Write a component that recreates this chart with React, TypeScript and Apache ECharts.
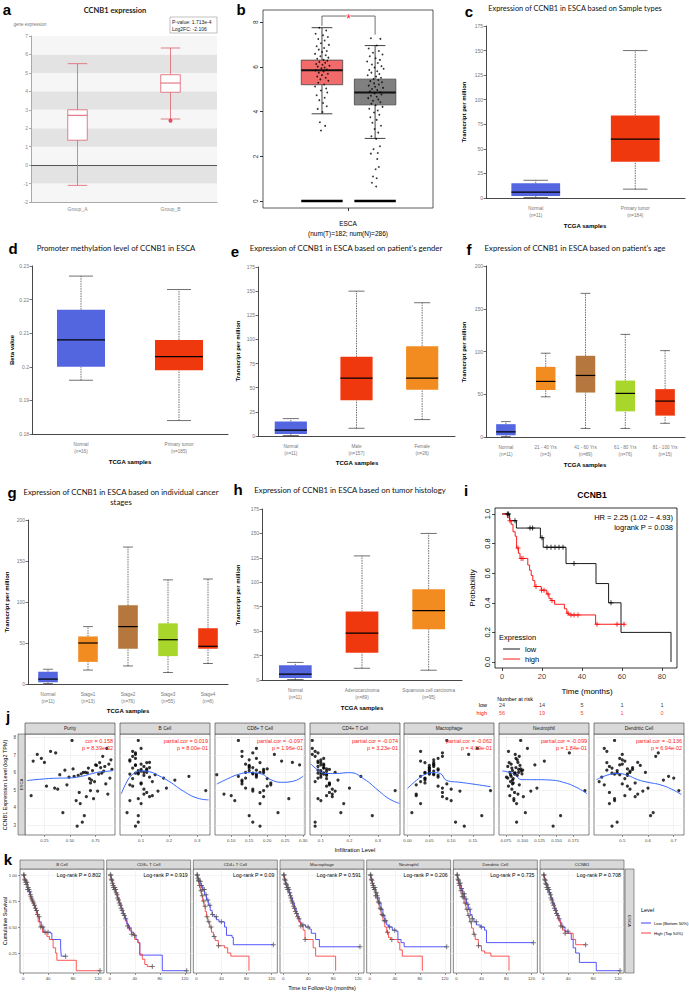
import React, { useEffect, useRef } from 'react';
import * as echarts from 'echarts';

const SANS = '"Liberation Sans", Arial, Helvetica, sans-serif';
const LATO = 'Lato, "Open Sans", "Noto Sans", sans-serif';
const PLUS = 'path://M2,0h1v2h2v1h-2v2h-1v-2h-2v-1h2z';

// ================= DATA =================
// a
const aCats = ['Group_A', 'Group_B'];
const aBoxes = [[-1.1, 1.35, 2.7, 3.0, 5.5], [2.5, 3.95, 4.45, 4.9, 6.35]];
const aOutliers = [[1, 2.4]];
const aStats = ['P-value: 1.713e-4', 'Log2FC: -2.106'];

// b
const bGroups = [1, 2];
const bBoxes = [[3.9, 5.2, 5.85, 6.3, 7.75], [2.8, 4.3, 4.85, 5.45, 6.95]];
const bTumorPts = [[-0.05,7.75],[0.08,7.62],[-0.12,7.48],[0.02,7.41],[0.11,7.33],[-0.07,7.24],[0.05,7.18],[-0.02,7.05],[0.13,6.98],[-0.1,6.92],[0.04,6.84],[-0.06,6.77],[0.09,6.71],[0,6.66],[-0.13,6.58],[0.07,6.52],[-0.03,6.47],[0.12,6.41],[-0.09,6.36],[0.03,6.31],[0.1,6.27],[-0.05,6.22],[0.06,6.18],[-0.11,6.13],[0.01,6.09],[0.14,6.05],[-0.08,6.01],[0.05,5.97],[-0.01,5.93],[0.09,5.88],[-0.12,5.84],[0.03,5.79],[-0.06,5.74],[0.11,5.69],[0,5.63],[-0.09,5.57],[0.07,5.51],[-0.03,5.44],[0.12,5.38],[-0.07,5.29],[0.04,5.21],[-0.13,5.12],[0.08,5.03],[-0.02,4.94],[0.1,4.85],[-0.1,4.73],[0.05,4.62],[-0.05,4.51],[0.02,4.38],[0.09,4.24],[-0.08,4.12],[0.01,3.98],[-0.04,3.52],[0.06,3.36],[-0.02,3.15]];
const bNormalPts = [[-0.08,7.28],[0.1,7.25],[0.03,6.95],[-0.12,6.82],[0.07,6.71],[-0.04,6.63],[0.14,6.55],[-0.1,6.47],[0.01,6.38],[0.09,6.31],[-0.15,6.24],[0.05,6.17],[-0.06,6.1],[0.12,6.03],[-0.01,5.97],[0.16,5.91],[-0.11,5.86],[0.04,5.8],[-0.07,5.74],[0.08,5.68],[-0.14,5.62],[0.02,5.57],[0.11,5.51],[-0.03,5.46],[0.06,5.41],[-0.09,5.36],[0.13,5.31],[-0.02,5.26],[0.07,5.21],[-0.12,5.16],[0,5.11],[0.15,5.06],[-0.06,5.01],[0.04,4.96],[-0.1,4.91],[0.09,4.86],[-0.01,4.81],[0.12,4.76],[-0.08,4.71],[0.03,4.66],[-0.13,4.6],[0.06,4.54],[-0.04,4.48],[0.1,4.42],[-0.07,4.35],[0.01,4.28],[0.14,4.21],[-0.11,4.13],[0.05,4.05],[-0.02,3.96],[0.08,3.86],[-0.09,3.75],[0.03,3.63],[-0.05,3.5],[0.11,3.37],[-0.01,3.22],[0.06,3.06],[-0.07,2.9],[0.02,2.78],[0.09,2.45],[-0.03,2.32],[0.05,2.15],[-0.08,2.12],[0.04,1.88],[0.07,1.52],[0.01,1.42],[-0.04,1.1],[0.03,1.02],[-0.06,0.82],[0.02,0.65]];
const bBracket = [1, 2, 7.83, 7.44, 8.27];

// c - h  (each box: [lowWhisker, Q1, median, Q3, highWhisker])
const cCats = ['Normal\n(n=11)', 'Primary tumor\n(n=184)'];
const cBoxes = [[0.5, 2, 6, 15, 18], [9, 37, 60, 84, 150]];
const dCats = ['Normal\n(n=16)', 'Primary tumor\n(n=185)'];
const dBoxes = [[0.196, 0.2, 0.208, 0.217, 0.227], [0.184, 0.199, 0.203, 0.208, 0.223]];
const eCats = ['Normal\n(n=11)', 'Male\n(n=157)', 'Female\n(n=26)'];
const eBoxes = [[0.5, 2, 6, 15, 18], [8, 37, 60, 82, 150], [17, 48, 60, 93, 138]];
const fCats = ['Normal\n(n=11)', '21 - 40 Yrs\n(n=3)', '41 - 60 Yrs\n(n=89)', '61 - 80 Yrs\n(n=76)', '81 - 100 Yrs\n(n=15)'];
const fBoxes = [[0.5, 2, 6, 15, 18], [47, 55, 65, 82, 98], [10, 52, 72, 95, 168], [10, 30, 51, 66, 120], [16, 25, 42, 56, 101]];
const gCats = ['Normal\n(n=11)', 'Stage1\n(n=13)', 'Stage2\n(n=76)', 'Stage3\n(n=55)', 'Stage4\n(n=8)'];
const gBoxes = [[0.5, 2, 6, 15, 18], [17, 27, 50, 58, 70], [22, 43, 70, 96, 167], [14, 34, 54, 74, 127], [25, 43, 46, 68, 128]];
const hCats = ['Normal\n(n=11)', 'Adenocarcinoma\n(n=89)', 'Squamous cell carcinoma\n(n=95)'];
const hBoxes = [[0.5, 2, 6, 15, 18], [12, 28, 48, 70, 127], [10, 52, 71, 93, 150]];

// i
const iLowCurve = [[0,1],[3.8,0.955],[7.2,0.905],[19.2,0.84],[20.6,0.775],[32,0.665],[47,0.53],[53.3,0.4],[59.5,0.2],[84.5,0]];
const iHighCurve = [[0,1],[2.7,0.975],[3.8,0.955],[4.6,0.93],[5.5,0.88],[6.6,0.85],[7.3,0.77],[8.2,0.735],[9,0.7],[12.9,0.655],[13.8,0.62],[14.6,0.585],[15.4,0.55],[16.4,0.51],[19.6,0.485],[22.4,0.46],[23.5,0.43],[24.5,0.415],[26.3,0.39],[31.2,0.36],[32.4,0.33],[33.4,0.318],[46.8,0.255],[61.5,0.255]];
const iLowCensorT = [2.7,3.3,6.5,14,15.3,20,22.5,24.5,26.5,28.5,30.5,36,54.5];
const iHighCensorT = [4,8,9.6,10.5,17,19.8,21,23,25,33,34.5,36,38,47.5,57.5,61];
const riskTimes = [0, 20, 40, 60, 80];
const riskLow = [24, 14, 5, 1, 1];
const riskHigh = [56, 19, 5, 1, 0];
const iXTicks = [0, 20, 40, 60, 80];
const iYTicks = [0, 0.2, 0.4, 0.6, 0.8, 1];

// j
const jNames = ['Purity', 'B Cell', 'CD8+ T Cell', 'CD4+ T Cell', 'Macrophage', 'Neutrophil', 'Dendritic Cell'];
const jCor = [['cor = 0.158', 'p = 8.39e-02'], ['partial.cor = 0.019', 'p = 8.00e-01'], ['partial.cor = -0.097', 'p = 1.96e-01'], ['partial.cor = -0.074', 'p = 3.23e-01'], ['partial.cor = -0.062', 'p = 4.09e-01'], ['partial.cor = -0.099', 'p = 1.84e-01'], ['partial.cor = -0.136', 'p = 6.94e-02']];
const jExpr = [6.12,5.84,7.21,4.63,5.97,6.48,5.31,6.02,7.83,4.95,5.66,6.35,3.72,6.81,5.49,6.18,4.41,5.93,6.57,5.12,7.04,6.26,4.78,5.74,6.09,3.18,5.58,6.66,4.87,6.41,5.88,7.38,5.23,6.01,4.52,6.29,5.79,2.95,6.73,5.41,6.14,4.69,5.99,6.93,5.06,6.44,4.24,5.69,6.21,3.55,5.92,6.58,5.36,7.12,4.98];
const jPurityX = [0.72,0.58,0.31,0.66,0.81,0.88,0.47,0.63,0.52,0.77,0.69,0.84,0.43,0.22,0.74,0.91,0.56,0.61,0.79,0.35,0.18,0.68,0.87,0.49,0.83,0.62,0.71,0.14,0.59,0.76,0.4,0.86,0.27,0.65,0.73,0.8,0.54,0.57,0.9,0.7,0.45,0.12,0.67,0.82,0.38,0.75,0.6,0.89,0.53,0.64,0.78,0.25,0.85,0.36,0.7];
const jBCellX = [0.09,0.11,0.07,0.13,0.08,0.1,0.06,0.12,0.09,0.16,0.07,0.11,0.05,0.08,0.14,0.1,0.06,0.09,0.12,0.19,0.08,0.07,0.11,0.13,0.1,0.09,0.22,0.06,0.12,0.08,0.15,0.1,0.07,0.11,0.09,0.13,0.27,0.08,0.06,0.1,0.12,0.14,0.09,0.07,0.11,0.08,0.1,0.18,0.12,0.09,0.06,0.13,0.1,0.08,0.33];
const jCD8X = [0.15,0.17,0.13,0.19,0.16,0.14,0.21,0.18,0.12,0.16,0.2,0.15,0.23,0.17,0.13,0.19,0.11,0.16,0.18,0.14,0.22,0.15,0.08,0.17,0.19,0.16,0.13,0.24,0.18,0.15,0.06,0.17,0.2,0.14,0.26,0.16,0.12,0.18,0.15,0.21,0.17,0.1,0.19,0.13,0.16,0.29,0.18,0.14,0.2,0.15,0.17,0.27,0.13,0.16,0.19];
const jCD4X = [0.1,0.12,0.08,0.14,0.09,0.11,0.13,0.1,0.07,0.15,0.12,0.09,0.17,0.11,0.08,0.13,0.1,0.12,0.09,0.2,0.07,0.11,0.14,0.1,0.12,0.08,0.16,0.09,0.13,0.11,0.1,0.07,0.12,0.15,0.09,0.11,0.24,0.08,0.1,0.13,0.09,0.12,0.11,0.08,0.14,0.1,0.18,0.09,0.12,0.28,0.11,0.1,0.13,0.09,0.36];
const jMacX = [0.05,0.07,0.03,0.08,0.04,0.06,0.02,0.05,0.09,0.12,0.04,0.06,0.01,0.07,0.03,0.05,0.1,0.06,0.04,0.08,0.14,0.05,0.02,0.07,0.06,0.11,0.04,0.03,0.08,0.05,0.06,0.16,0.07,0.04,0.09,0.05,0.03,0.13,0.06,0.04,0.07,0.02,0.05,0.08,0.1,0.06,0.03,0.04,0.07,0.17,0.05,0.06,0.09,0.08,0.19];
const jNeuX = [0.085,0.092,0.079,0.101,0.088,0.083,0.095,0.081,0.097,0.112,0.086,0.078,0.104,0.09,0.082,0.094,0.087,0.099,0.08,0.121,0.089,0.084,0.093,0.076,0.098,0.091,0.085,0.132,0.088,0.096,0.082,0.107,0.079,0.094,0.087,0.09,0.083,0.145,0.092,0.086,0.1,0.081,0.089,0.095,0.084,0.118,0.091,0.078,0.097,0.156,0.088,0.093,0.085,0.169,0.192];
const jDCX = [0.48,0.52,0.44,0.55,0.46,0.5,0.43,0.53,0.47,0.58,0.51,0.45,0.62,0.49,0.41,0.54,0.47,0.52,0.44,0.6,0.5,0.46,0.56,0.42,0.53,0.48,0.66,0.51,0.45,0.57,0.49,0.43,0.52,0.59,0.47,0.54,0.68,0.46,0.5,0.55,0.44,0.51,0.48,0.63,0.53,0.49,0.45,0.7,0.52,0.61,0.47,0.56,0.5,0.64,0.72];
const jXs = [jPurityX, jBCellX, jCD8X, jCD4X, jMacX, jNeuX, jDCX];
// loess fit: [x, fit, lower, upper]
const jFits = [
  [[0.08,5.55,4.95,6.15],[0.2,5.62,5.25,6.0],[0.35,5.68,5.45,5.92],[0.5,5.7,5.55,5.85],[0.62,5.8,5.67,5.93],[0.72,5.95,5.82,6.08],[0.8,6.05,5.9,6.2],[0.87,6.08,5.88,6.3],[0.92,6.12,5.8,6.45]],
  [[0.03,4.8,4.0,5.6],[0.05,5.5,5.0,6.0],[0.07,5.9,5.65,6.15],[0.1,6.1,5.95,6.25],[0.13,6.05,5.85,6.25],[0.16,5.85,5.5,6.2],[0.2,5.5,4.9,6.1],[0.25,4.95,4.0,5.9],[0.3,4.55,3.2,5.9],[0.34,4.45,2.8,6.1]],
  [[0.06,5.35,4.7,6.0],[0.09,5.65,5.25,6.05],[0.12,5.9,5.7,6.1],[0.15,6.0,5.85,6.15],[0.18,5.95,5.8,6.1],[0.21,5.6,5.4,5.8],[0.24,5.45,5.05,5.85],[0.27,5.5,4.85,6.15],[0.3,5.8,4.8,6.8]],
  [[0.065,6.5,6.0,7.0],[0.09,6.15,5.95,6.35],[0.12,5.95,5.8,6.1],[0.15,5.95,5.75,6.15],[0.2,6.0,5.65,6.35],[0.25,5.65,5.0,6.3],[0.3,5.0,4.0,6.0],[0.34,4.5,3.0,6.0],[0.375,4.25,2.5,6.0]],
  [[0.0,5.1,4.5,5.7],[0.02,5.55,5.25,5.85],[0.04,5.9,5.7,6.1],[0.06,6.0,5.85,6.15],[0.075,5.95,5.75,6.15],[0.09,5.55,5.3,5.8],[0.12,5.45,5.1,5.8],[0.15,5.35,4.85,5.85],[0.19,5.2,4.4,6.0]],
  [[0.07,6.1,5.8,6.4],[0.085,5.95,5.8,6.1],[0.1,5.6,5.4,5.8],[0.12,5.6,5.3,5.9],[0.14,5.58,5.2,5.95],[0.16,5.45,4.9,6.0],[0.18,5.15,4.3,6.0],[0.195,4.8,3.7,5.9]],
  [[0.4,5.6,5.2,6.0],[0.44,5.85,5.65,6.05],[0.48,5.95,5.8,6.1],[0.52,5.85,5.7,6.0],[0.56,5.6,5.4,5.8],[0.6,5.45,5.2,5.7],[0.65,5.3,4.95,5.65],[0.7,5.0,4.5,5.5],[0.73,4.75,4.1,5.4]]
];
const jRanges = [[0.06, 0.94], [0.025, 0.345], [0.055, 0.305], [0.062, 0.377], [-0.008, 0.198], [0.065, 0.198], [0.39, 0.74]];
const jTicks = [[0.25, 0.5, 0.75], [0.1, 0.2, 0.3], [0.1, 0.15, 0.2, 0.25, 0.3], [0.1, 0.2, 0.3], [0, 0.05, 0.1, 0.15], [0.075, 0.1, 0.125, 0.15, 0.175], [0.5, 0.6, 0.7]];
const jTickDec = [2, 1, 2, 1, 2, 3, 1];
const jYTicks = [3, 4, 5, 6, 7, 8];

// k
const kNames = ['B Cell', 'CD8+ T Cell', 'CD4+ T Cell', 'Macrophage', 'Neutrophil', 'Dendritic Cell', 'CCNB1'];
const kP = ['0.802', '0.919', '0.09', '0.591', '0.206', '0.735', '0.708'];
const kLow = [
  [[0,1],[2,0.96],[4,0.93],[7,0.88],[9,0.84],[12,0.79],[14,0.75],[17,0.71],[20,0.66],[23,0.6],[26,0.55],[29,0.5],[33,0.45],[44,0.44],[46,0.38],[57,0.38],[60,0.3],[61,0.22],[68,0.22]],
  [[0,1],[2,0.96],[4,0.92],[6,0.88],[9,0.83],[12,0.78],[15,0.73],[18,0.68],[21,0.63],[24,0.58],[27,0.53],[30,0.49],[34,0.45],[38,0.42],[42,0.38],[45,0.35],[48,0.23],[84,0.08],[123,0.08]],
  [[0,1],[2,0.97],[4,0.94],[7,0.9],[10,0.86],[13,0.81],[16,0.76],[19,0.71],[22,0.66],[25,0.62],[28,0.6],[32,0.57],[36,0.55],[45,0.5],[48,0.42],[57,0.4],[59,0.33],[123,0.33]],
  [[0,1],[2,0.96],[4,0.92],[6,0.88],[9,0.83],[12,0.78],[15,0.73],[18,0.68],[21,0.63],[24,0.58],[27,0.54],[30,0.52],[36,0.5],[42,0.48],[45,0.44],[52,0.38],[58,0.31],[123,0.31]],
  [[0,1],[2,0.96],[4,0.92],[6,0.88],[9,0.83],[12,0.78],[15,0.73],[18,0.67],[21,0.61],[24,0.56],[27,0.52],[30,0.5],[36,0.47],[42,0.46],[45,0.38],[50,0.35],[55,0.31],[123,0.31]],
  [[0,1],[2,0.96],[4,0.92],[7,0.87],[10,0.82],[13,0.77],[16,0.72],[19,0.67],[22,0.62],[25,0.58],[28,0.55],[32,0.52],[38,0.5],[45,0.47],[48,0.35],[123,0.35]],
  [[0,1],[2,0.96],[4,0.92],[6,0.88],[9,0.83],[12,0.78],[15,0.73],[18,0.68],[21,0.63],[24,0.58],[27,0.54],[30,0.5],[35,0.46],[40,0.44],[45,0.38],[48,0.3],[52,0.25],[58,0.16],[85,0.08],[123,0.08]]
];
const kHigh = [
  [[0,1],[2,0.95],[5,0.91],[7,0.86],[10,0.81],[12,0.77],[15,0.73],[18,0.68],[21,0.62],[24,0.55],[27,0.5],[31,0.45],[38,0.41],[42,0.38],[48,0.3],[52,0.25],[54,0.18],[85,0.08],[123,0.08]],
  [[0,1],[2,0.95],[5,0.9],[7,0.86],[10,0.81],[13,0.76],[16,0.71],[19,0.66],[22,0.61],[25,0.56],[28,0.51],[31,0.47],[35,0.43],[40,0.38],[45,0.35],[48,0.24],[52,0.19],[56,0.14],[60,0.12],[68,0.12]],
  [[0,1],[2,0.95],[4,0.9],[6,0.85],[8,0.8],[10,0.75],[12,0.7],[14,0.65],[16,0.6],[18,0.55],[21,0.5],[24,0.45],[27,0.41],[30,0.37],[35,0.32],[45,0.3],[50,0.25],[55,0.22],[84,0.08]],
  [[0,1],[2,0.95],[4,0.91],[7,0.86],[10,0.8],[13,0.75],[16,0.7],[19,0.65],[22,0.6],[25,0.55],[28,0.51],[32,0.47],[35,0.38],[45,0.38],[48,0.3],[52,0.22],[84,0.08]],
  [[0,1],[2,0.95],[4,0.9],[6,0.86],[9,0.8],[12,0.74],[15,0.68],[18,0.62],[21,0.56],[24,0.5],[27,0.45],[30,0.4],[33,0.38],[45,0.35],[48,0.28],[52,0.22],[84,0.08]],
  [[0,1],[2,0.95],[4,0.9],[6,0.85],[9,0.79],[12,0.73],[15,0.67],[18,0.61],[21,0.55],[24,0.49],[27,0.43],[30,0.38],[35,0.32],[40,0.27],[45,0.25],[55,0.22],[84,0.08]],
  [[0,1],[2,0.95],[4,0.91],[7,0.86],[10,0.81],[13,0.76],[16,0.71],[19,0.66],[22,0.61],[25,0.56],[28,0.51],[31,0.47],[35,0.44],[45,0.44],[48,0.38],[52,0.33],[68,0.33]]
];
const kCensorT = [0.8,1.6,2.5,3.3,4.2,5.1,6,7.2,8.1,9.3,10.4,11.6,12.5,13.9,15.2,16.8,18.1,19.7,21.4,23.2,25.5,28.3,31.6,35.2,39.8];
const kXTicks = [0, 40, 80, 120];
const kYTicks = [0.25, 0.5, 0.75, 1];

// ================= HELPERS =================
const survAt = (curve: number[][], t: number) => {
  let y = curve[0][1];
  for (const p of curve) if (p[0] <= t) y = p[1];
  return y;
};

function T(x: number, y: number, text: string, o: any = {}) {
  const align = o.align || 'center';
  const va = o.va || 'middle';
  return {
    type: 'text', x, y, rotation: o.rot || 0, silent: true, z: 100,
    style: {
      text, fill: o.fill || '#000', fontSize: o.size || 6, fontFamily: o.family || SANS,
      fontWeight: o.weight || 'normal', align, verticalAlign: va, textAlign: align, textVerticalAlign: va
    }
  };
}
function R(x: number, y: number, w: number, h: number, fill: string, stroke?: string, lw?: number) {
  return { type: 'rect', silent: true, z: 99, shape: { x, y, width: w, height: h }, style: { fill, stroke: stroke || 'none', lineWidth: lw || 0 } };
}
function L(x1: number, y1: number, x2: number, y2: number, stroke: string, lw: number) {
  return { type: 'line', silent: true, z: 100, shape: { x1, y1, x2, y2 }, style: { stroke, lineWidth: lw } };
}

function boxRender(st: any) {
  return (params: any, api: any) => {
    const xv = api.value(0);
    const pLo = api.coord([xv, api.value(1)]);
    const pQ1 = api.coord([xv, api.value(2)]);
    const pMd = api.coord([xv, api.value(3)]);
    const pQ3 = api.coord([xv, api.value(4)]);
    const pHi = api.coord([xv, api.value(5)]);
    const cx = pMd[0];
    const bw = api.size([1, 0])[0] * st.frac;
    const cw = bw * st.cap;
    const fill = st.fills[params.dataIndex % st.fills.length];
    const ws: any = { stroke: st.whisker, lineWidth: st.whiskerW };
    if (st.dash) ws.lineDash = st.dash;
    const cs = { stroke: st.whisker, lineWidth: st.whiskerW };
    const children: any[] = [
      { type: 'line', shape: { x1: cx, y1: pQ3[1], x2: cx, y2: pHi[1] }, style: ws },
      { type: 'line', shape: { x1: cx, y1: pLo[1], x2: cx, y2: pQ1[1] }, style: ws },
      { type: 'line', shape: { x1: cx - cw / 2, y1: pHi[1], x2: cx + cw / 2, y2: pHi[1] }, style: cs },
      { type: 'line', shape: { x1: cx - cw / 2, y1: pLo[1], x2: cx + cw / 2, y2: pLo[1] }, style: cs },
      { type: 'rect', shape: { x: cx - bw / 2, y: pQ3[1], width: bw, height: pQ1[1] - pQ3[1] }, style: { fill, stroke: st.stroke || 'none', lineWidth: 0.8 } },
      { type: 'line', shape: { x1: cx - bw / 2, y1: pMd[1], x2: cx + bw / 2, y2: pMd[1] }, style: { stroke: st.median, lineWidth: st.medianW } }
    ];
    if (st.zero) {
      const p0 = api.coord([xv, 0]);
      children.push({ type: 'line', shape: { x1: cx - bw / 2, y1: p0[1], x2: cx + bw / 2, y2: p0[1] }, style: { stroke: '#000', lineWidth: 2.4 } });
    }
    return { type: 'group', children };
  };
}

const BLUE = '#5366E0', RED = '#F0380E', ORANGE = '#F28C20', BROWN = '#B5773D', GREEN = '#A9D62B';

function buildOption() {
  const grid: any[] = [], xAxis: any[] = [], yAxis: any[] = [], series: any[] = [], graphic: any[] = [];
  const noLine = { show: false, onZero: false };

  // ---------- a ----------
  grid.push({ left: 31, top: 36, width: 186, height: 166 });
  xAxis.push({ type: 'category', gridIndex: 0, data: aCats, axisLine: { onZero: false, lineStyle: { color: '#aaa' } }, axisTick: { show: false }, axisLabel: { fontSize: 5, color: '#888', margin: 4, fontFamily: SANS }, splitLine: { show: false } });
  yAxis.push({ type: 'value', gridIndex: 0, min: -2, max: 7, interval: 1, axisLine: { show: true, onZero: false, lineStyle: { color: '#aaa' } }, axisTick: { show: true, length: 2, lineStyle: { color: '#aaa' } }, axisLabel: { fontSize: 5, color: '#888', margin: 3, fontFamily: SANS }, splitLine: { show: false }, splitArea: { show: true, areaStyle: { color: ['#f6f6f6', '#e3e3e3'] } } });
  series.push({ type: 'custom', xAxisIndex: 0, yAxisIndex: 0, z: 5, encode: { x: 0, y: [1, 2, 3, 4, 5] }, data: aBoxes.map((b, k) => [k, ...b]),
    renderItem: boxRender({ frac: 0.21, cap: 1, fills: ['#fff'], stroke: '#e0606e', whisker: '#e0606e', dash: null, median: '#e0606e', medianW: 1, whiskerW: 0.8 }) });
  series.push({ type: 'scatter', xAxisIndex: 0, yAxisIndex: 0, z: 6, data: aOutliers, symbolSize: 4, itemStyle: { color: '#d8283c' },
    markLine: { silent: true, symbol: 'none', label: { show: false }, lineStyle: { color: '#555', width: 1, type: 'solid' }, data: [{ yAxis: 0 }] } });
  graphic.push(T(115, 10, 'CCNB1 expression', { size: 7.5, family: LATO, weight: 'bold', fill: '#222' }));
  graphic.push(T(30, 24, 'gene expression', { size: 4.5, fill: '#777' }));
  graphic.push(R(170, 17, 47, 16, '#fff', '#999', 0.6));
  graphic.push(T(172, 21.5, aStats[0], { size: 5, align: 'left', fill: '#222' }));
  graphic.push(T(172, 28.5, aStats[1], { size: 5, align: 'left', fill: '#222' }));

  // ---------- b ----------
  grid.push({ left: 263, top: 10, width: 170, height: 198, show: true, borderColor: '#333', borderWidth: 0.8, backgroundColor: '#fff' });
  xAxis.push({ type: 'value', gridIndex: 1, min: -0.11, max: 3.09, axisLine: noLine, axisTick: { show: true, length: 3, customValues: [1.5], lineStyle: { color: '#333' } }, axisLabel: { show: false, customValues: [1.5] }, splitLine: { show: false } });
  yAxis.push({ type: 'value', gridIndex: 1, min: -0.31, max: 8.54, axisLine: noLine, axisTick: { show: true, length: 3, customValues: [0, 2, 4, 6, 8], lineStyle: { color: '#333' } }, axisLabel: { customValues: [0, 2, 4, 6, 8], rotate: 90, fontSize: 6.5, color: '#333', margin: 4, fontFamily: SANS }, splitLine: { show: false } });
  series.push({ type: 'custom', xAxisIndex: 1, yAxisIndex: 1, z: 5, encode: { x: 0, y: [1, 2, 3, 4, 5] }, data: bBoxes.map((b, k) => [bGroups[k], ...b]),
    renderItem: boxRender({ frac: 0.78, cap: 0.5, fills: ['#F26B6B', '#808080'], stroke: '#444', whisker: '#111', dash: null, median: '#111', medianW: 2, whiskerW: 0.8, zero: true }) });
  series.push({ type: 'scatter', xAxisIndex: 1, yAxisIndex: 1, z: 7, symbolSize: 1.8, itemStyle: { color: '#000' },
    data: [...bTumorPts.map((p) => [bGroups[0] + p[0], p[1]]), ...bNormalPts.map((p) => [bGroups[1] + p[0], p[1]])] });
  series.push({ type: 'custom', xAxisIndex: 1, yAxisIndex: 1, z: 8, data: [bBracket], encode: { x: [0, 1], y: [2, 3, 4] },
    renderItem: (params: any, api: any) => {
      const a = api.coord([api.value(0), api.value(2)]);
      const b = api.coord([api.value(0), api.value(4)]);
      const c = api.coord([api.value(1), api.value(4)]);
      const d = api.coord([api.value(1), api.value(3)]);
      return { type: 'group', children: [
        { type: 'polyline', shape: { points: [a, b, c, d] }, style: { stroke: '#333', lineWidth: 0.7, fill: 'none' } },
        { type: 'text', x: (b[0] + c[0]) / 2, y: b[1] + 2.5, style: { text: '*', fill: '#ff2020', fontSize: 12, fontFamily: SANS, align: 'center', verticalAlign: 'middle', textAlign: 'center', textVerticalAlign: 'middle', backgroundColor: '#fff' } }
      ] };
    } });
  graphic.push(T(348, 223, 'ESCA', { size: 6.5 }));
  graphic.push(T(348, 233, '(num(T)=182; num(N)=286)', { size: 6.5 }));

  // ---------- GEPIA panels c-h ----------
  const gep = (gi: number, box: number[], cats: string[], boxes: number[][], colors: string[], ymin: number, ymax: number, interval: number) => {
    grid.push({ left: box[0], top: box[1], width: box[2], height: box[3] });
    xAxis.push({ type: 'category', gridIndex: gi, data: cats, axisLine: { onZero: false, lineStyle: { color: '#333', width: 0.9 } }, axisTick: { show: false }, axisLabel: { interval: 0, fontSize: 4.6, lineHeight: 7, color: '#777', margin: 7, fontFamily: SANS }, splitLine: { show: false } });
    yAxis.push({ type: 'value', gridIndex: gi, min: ymin, max: ymax, interval, axisLine: { show: true, onZero: false, lineStyle: { color: '#333', width: 0.9 } }, axisTick: { show: true, length: 2.5, lineStyle: { color: '#333', width: 0.7 } }, axisLabel: { fontSize: 5, color: '#777', margin: 3, fontFamily: SANS }, splitLine: { show: false } });
    series.push({ type: 'custom', xAxisIndex: gi, yAxisIndex: gi, z: 5, encode: { x: 0, y: [1, 2, 3, 4, 5] }, data: boxes.map((b, k) => [k, ...b]),
      renderItem: boxRender({ frac: 0.49, cap: 0.5, fills: colors, stroke: null, whisker: '#333', dash: [1.5, 1], median: '#000', medianW: 1.2, whiskerW: 0.7 }) });
  };
  gep(2, [486, 26, 199, 172], cCats, cBoxes, [BLUE, RED], 0, 175, 25);
  gep(3, [32, 266, 196, 168], dCats, dBoxes, [BLUE, RED], 0.18, 0.23, 0.01);
  gep(4, [258, 267, 197, 169], eCats, eBoxes, [BLUE, RED, ORANGE], 0, 175, 25);
  gep(5, [486, 266, 199, 171], fCats, fBoxes, [BLUE, ORANGE, BROWN, GREEN, RED], 0, 200, 50);
  gep(6, [28, 520, 200, 164], gCats, gBoxes, [BLUE, ORANGE, BROWN, GREEN, RED], 0, 200, 50);
  gep(7, [262, 509, 200, 171], hCats, hBoxes, [BLUE, RED, ORANGE], 0, 175, 25);

  const ttl = { size: 7.8, family: LATO, fill: '#111' };
  const yn = { size: 6, weight: 'bold', rot: Math.PI / 2 };
  const tcga = { size: 6, weight: 'bold' };
  graphic.push(T(575, 8, 'Expression of CCNB1 in ESCA based on Sample types', { ...ttl, size: 7.4 }));
  graphic.push(T(464, 112, 'Transcript per million', yn));
  graphic.push(T(585, 226, 'TCGA samples', tcga));
  graphic.push(T(116, 248, 'Promoter methylation level of CCNB1 in ESCA', ttl));
  graphic.push(T(12, 350, 'Beta value', yn));
  graphic.push(T(130, 462, 'TCGA samples', tcga));
  graphic.push(T(346, 248, "Expression of CCNB1 in ESCA based on patient's gender", ttl));
  graphic.push(T(238, 351, 'Transcript per million', yn));
  graphic.push(T(357, 463, 'TCGA samples', tcga));
  graphic.push(T(575, 248, "Expression of CCNB1 in ESCA based on patient's age", ttl));
  graphic.push(T(464, 352, 'Transcript per million', yn));
  graphic.push(T(585, 465, 'TCGA samples', tcga));
  graphic.push(T(121, 492, 'Expression of CCNB1 in ESCA based on individual cancer', ttl));
  graphic.push(T(121, 502, 'stages', ttl));
  graphic.push(T(7, 602, 'Transcript per million', yn));
  graphic.push(T(128, 711, 'TCGA samples', tcga));
  graphic.push(T(350, 490, 'Expression of CCNB1 in ESCA based on tumor histology', ttl));
  graphic.push(T(238, 595, 'Transcript per million', yn));
  graphic.push(T(362, 708, 'TCGA samples', tcga));

  // ---------- i ----------
  const iYMin = -0.0405, iYMax = 1.0405;
  grid.push({ left: 495, top: 508, width: 182, height: 160, show: true, borderColor: '#000', borderWidth: 0.8, backgroundColor: '#fff' });
  xAxis.push({ type: 'value', gridIndex: 8, position: 'bottom', min: -3.5, max: 87.5, axisLine: noLine, axisTick: { show: true, length: 3, customValues: iXTicks, lineStyle: { color: '#000', width: 0.7 } }, axisLabel: { show: false, customValues: iXTicks }, splitLine: { show: false } });
  yAxis.push({ type: 'value', gridIndex: 8, position: 'left', min: iYMin, max: iYMax, axisLine: noLine, axisTick: { show: true, length: 3, customValues: iYTicks, lineStyle: { color: '#000', width: 0.7 } }, axisLabel: { show: true, customValues: iYTicks, formatter: (v: number) => v.toFixed(1), rotate: 90, fontSize: 7.5, color: '#000', margin: 4, fontFamily: SANS }, splitLine: { show: false } });
  series.push({ type: 'line', xAxisIndex: 8, yAxisIndex: 8, step: 'end', symbol: 'none', data: iLowCurve, lineStyle: { color: '#000', width: 0.9 }, z: 5 });
  series.push({ type: 'line', xAxisIndex: 8, yAxisIndex: 8, step: 'end', symbol: 'none', data: iHighCurve, lineStyle: { color: '#ff0000', width: 0.9 }, z: 5 });
  series.push({ type: 'scatter', xAxisIndex: 8, yAxisIndex: 8, symbol: PLUS, symbolSize: 5, itemStyle: { color: '#000' }, data: iLowCensorT.map((t) => [t, survAt(iLowCurve, t)]), z: 6 });
  series.push({ type: 'scatter', xAxisIndex: 8, yAxisIndex: 8, symbol: PLUS, symbolSize: 5, itemStyle: { color: '#ff0000' }, data: iHighCensorT.map((t) => [t, survAt(iHighCurve, t)]), z: 6 });
  // x tick labels of panel i, placed through the axis scale
  series.push({ type: 'scatter', xAxisIndex: 8, yAxisIndex: 8, symbolSize: 0.1, itemStyle: { color: 'transparent' }, clip: false, z: 6,
    data: iXTicks.map((t) => [t, iYMin]),
    label: { show: true, position: 'bottom', distance: 4.5, formatter: (p: any) => String(p.value[0]), fontSize: 7.5, color: '#000', fontFamily: SANS } });
  graphic.push(T(592, 495, 'CCNB1', { size: 8.5, weight: 'bold' }));
  graphic.push(T(673, 517, 'HR = 2.25 (1.02 \u2212 4.93)', { size: 7.5, align: 'right' }));
  graphic.push(T(673, 527, 'logrank P = 0.038', { size: 7.5, align: 'right' }));
  graphic.push(T(499, 637, 'Expression', { size: 7.5, align: 'left' }));
  graphic.push(L(503, 649, 520, 649, '#000', 0.9));
  graphic.push(L(503, 659, 520, 659, '#ff0000', 0.9));
  graphic.push(T(525, 649, 'low', { size: 7.5, align: 'left' }));
  graphic.push(T(525, 659, 'high', { size: 7.5, align: 'left' }));
  graphic.push(T(472, 588, 'Probability', { size: 8, rot: Math.PI / 2 }));
  graphic.push(T(587, 691, 'Time (months)', { size: 8 }));
  graphic.push(T(515, 699, 'Number at risk', { size: 5.5 }));

  // risk table
  grid.push({ left: 495, top: 701, width: 182, height: 16 });
  xAxis.push({ type: 'value', gridIndex: 9, min: -3.5, max: 87.5, show: false });
  yAxis.push({ type: 'category', gridIndex: 9, data: ['low', 'high'], inverse: true, axisLine: { show: false }, axisTick: { show: false }, splitLine: { show: false },
    axisLabel: { fontSize: 5.5, margin: 8, fontFamily: SANS, color: (v: string) => (v === 'high' ? '#ff0000' : '#000') } });
  const riskSeries = (vals: number[], row: number, color: string) => ({
    type: 'scatter', xAxisIndex: 9, yAxisIndex: 9, symbolSize: 0.1, itemStyle: { color: 'transparent' },
    data: vals.map((n, k) => [riskTimes[k], row, n]),
    label: { show: true, position: 'inside', formatter: (p: any) => String(p.value[2]), fontSize: 5.5, color, fontFamily: SANS }
  });
  series.push(riskSeries(riskLow, 0, '#000'));
  series.push(riskSeries(riskHigh, 1, '#ff0000'));

  // ---------- j ----------
  const jLeft = [25, 120, 215, 310, 404, 499, 594];
  const jW = 90, jTop = 734, jH = 101;
  for (let f = 0; f < 7; f++) {
    const gi = 10 + f;
    grid.push({ left: jLeft[f], top: jTop, width: jW, height: jH, show: true, borderColor: '#333', borderWidth: 0.6, backgroundColor: '#fff' });
    xAxis.push({ type: 'value', gridIndex: gi, min: jRanges[f][0], max: jRanges[f][1], axisLine: noLine,
      axisTick: { show: true, length: 2, customValues: jTicks[f], lineStyle: { color: '#333', width: 0.5 } },
      axisLabel: { customValues: jTicks[f], formatter: (v: number) => v.toFixed(jTickDec[f]), fontSize: 4.3, color: '#444', margin: 3, fontFamily: SANS },
      splitLine: { show: true, lineStyle: { color: '#ebebeb', width: 0.6 } } });
    yAxis.push({ type: 'value', gridIndex: gi, min: 2.45, max: 8.2, axisLine: noLine,
      axisTick: { show: f === 0, length: 2, customValues: jYTicks, lineStyle: { color: '#333', width: 0.5 } },
      axisLabel: { show: f === 0, customValues: jYTicks, fontSize: 4.5, color: '#444', margin: 9, fontFamily: SANS },
      splitLine: { show: true, lineStyle: { color: '#ebebeb', width: 0.6 } } });
    series.push({ type: 'scatter', xAxisIndex: gi, yAxisIndex: gi, symbolSize: 3.2, itemStyle: { color: '#000' }, z: 3,
      data: jXs[f].map((x, i) => [x, jExpr[i]]) });
    series.push({ type: 'line', xAxisIndex: gi, yAxisIndex: gi, stack: 'band' + f, symbol: 'none', smooth: true, lineStyle: { opacity: 0 }, z: 4,
      data: jFits[f].map((r) => [r[0], r[2]]) });
    series.push({ type: 'line', xAxisIndex: gi, yAxisIndex: gi, stack: 'band' + f, symbol: 'none', smooth: true, lineStyle: { opacity: 0 }, z: 4,
      areaStyle: { color: 'rgba(150,150,150,0.45)' }, data: jFits[f].map((r) => [r[0], r[3] - r[2]]) });
    series.push({ type: 'line', xAxisIndex: gi, yAxisIndex: gi, symbol: 'none', smooth: true, lineStyle: { color: '#3366FF', width: 1 }, z: 5,
      data: jFits[f].map((r) => [r[0], r[1]]) });
    graphic.push(R(jLeft[f], 723, jW, 11, '#d9d9d9', '#333', 0.6));
    graphic.push(T(jLeft[f] + jW / 2, 728.5, jNames[f], { size: 4.8, fill: '#222' }));
    graphic.push(T(jLeft[f] + jW - 2, 741, jCor[f][0], { size: 5.5, fill: '#ff2020', align: 'right' }));
    graphic.push(T(jLeft[f] + jW - 2, 747.5, jCor[f][1], { size: 5.5, fill: '#ff2020', align: 'right' }));
  }
  graphic.push(R(18, jTop, 7, jH, '#d9d9d9', '#333', 0.5));
  graphic.push(T(21.5, jTop + jH / 2, 'ESCA', { size: 4.3, rot: Math.PI / 2, fill: '#222' }));
  graphic.push(T(5, 785, 'CCNB1 Expression Level (log2 TPM)', { size: 5.5, rot: Math.PI / 2 }));
  graphic.push(T(355, 850, 'Infiltration Level', { size: 5.8 }));

  // ---------- k ----------
  const kTop = 869, kH = 104, kW = 84;
  for (let f = 0; f < 7; f++) {
    const gi = 17 + f;
    const left = 20 + f * 86.67;
    grid.push({ left, top: kTop, width: kW, height: kH, show: true, borderColor: '#333', borderWidth: 0.6, backgroundColor: '#fff' });
    xAxis.push({ type: 'value', gridIndex: gi, min: -5, max: 129.4, axisLine: noLine,
      axisTick: { show: true, length: 2, customValues: kXTicks, lineStyle: { color: '#333', width: 0.5 } },
      axisLabel: { customValues: kXTicks, fontSize: 4.3, color: '#444', margin: 3, fontFamily: SANS },
      splitLine: { show: true, lineStyle: { color: '#ececec', width: 0.6 } } });
    yAxis.push({ type: 'value', gridIndex: gi, min: 0.058, max: 1.058, axisLine: noLine,
      axisTick: { show: f === 0, length: 2, customValues: kYTicks, lineStyle: { color: '#333', width: 0.5 } },
      axisLabel: { show: f === 0, customValues: kYTicks, formatter: (v: number) => v.toFixed(2), fontSize: 4.3, color: '#444', margin: 3, fontFamily: SANS },
      splitLine: { show: true, lineStyle: { color: '#ececec', width: 0.6 } } });
    const lo = kLow[f], hi = kHigh[f];
    series.push({ type: 'line', xAxisIndex: gi, yAxisIndex: gi, step: 'end', symbol: 'none', data: lo, lineStyle: { color: '#2b2bff', width: 0.8 }, z: 4 });
    series.push({ type: 'line', xAxisIndex: gi, yAxisIndex: gi, step: 'end', symbol: 'none', data: hi, lineStyle: { color: '#ff2b2b', width: 0.8 }, z: 4 });
    const cens: number[][] = [];
    kCensorT.forEach((t, i) => { const c = i % 2 ? hi : lo; cens.push([t, survAt(c, t)]); });
    [lo, hi].forEach((c) => {
      const n = c.length;
      if (c[n - 1][1] === c[n - 2][1]) cens.push([c[n - 1][0], c[n - 1][1]]);
    });
    series.push({ type: 'scatter', xAxisIndex: gi, yAxisIndex: gi, symbol: PLUS, symbolSize: 5, itemStyle: { color: '#555' }, data: cens, z: 5 });
    graphic.push(R(left, 860, kW, 9, '#d9d9d9', '#333', 0.5));
    graphic.push(T(left + kW / 2, 864.5, kNames[f], { size: 4.3, fill: '#222' }));
    graphic.push(T(left + kW - 3, 875, 'Log-rank P = ' + kP[f], { size: 5.2, align: 'right' }));
  }
  graphic.push(R(625, kTop, 9, kH, '#d9d9d9', '#333', 0.5));
  graphic.push(T(629.5, kTop + kH / 2, 'ESCA', { size: 4.3, rot: -Math.PI / 2, fill: '#222' }));
  graphic.push(T(5, 921, 'Cumulative Survival', { size: 5.5, rot: Math.PI / 2 }));
  graphic.push(T(322, 988, 'Time to Follow-Up (months)', { size: 5.5 }));
  graphic.push(T(641, 910, 'Level', { size: 5.5, align: 'left' }));
  graphic.push(L(641, 923, 651, 923, '#2b2bff', 0.9));
  graphic.push(L(641, 933, 651, 933, '#ff2b2b', 0.9));
  graphic.push(T(654, 923, 'Low (Bottom 50%)', { size: 4.2, align: 'left' }));
  graphic.push(T(654, 933, 'High (Top 50%)', { size: 4.2, align: 'left' }));

  // ---------- panel letters ----------
  const letter = (x: number, y: number, s: string) => graphic.push(T(x, y, s, { size: 15, weight: 'bold', family: SANS }));
  letter(7, 9, 'a'); letter(241, 9, 'b'); letter(469, 11, 'c');
  letter(13, 248, 'd'); letter(235, 251, 'e'); letter(469, 249, 'f');
  letter(12, 492, 'g'); letter(238, 489, 'h'); letter(466, 490, 'i');
  letter(8, 716, 'j'); letter(8, 859, 'k');

  return { animation: false, backgroundColor: '#fff', grid, xAxis, yAxis, series, graphic };
}

export default function App() {
  const ref = useRef<HTMLDivElement>(null);
  useEffect(() => {
    const chart = echarts.init(ref.current as HTMLDivElement, undefined, { renderer: 'svg', width: 689, height: 995 });
    chart.setOption(buildOption() as any);
    return () => chart.dispose();
  }, []);
  return <div ref={ref} style={{ position: 'absolute', left: 0, top: 0, width: 689, height: 995, background: '#fff' }} />;
}
